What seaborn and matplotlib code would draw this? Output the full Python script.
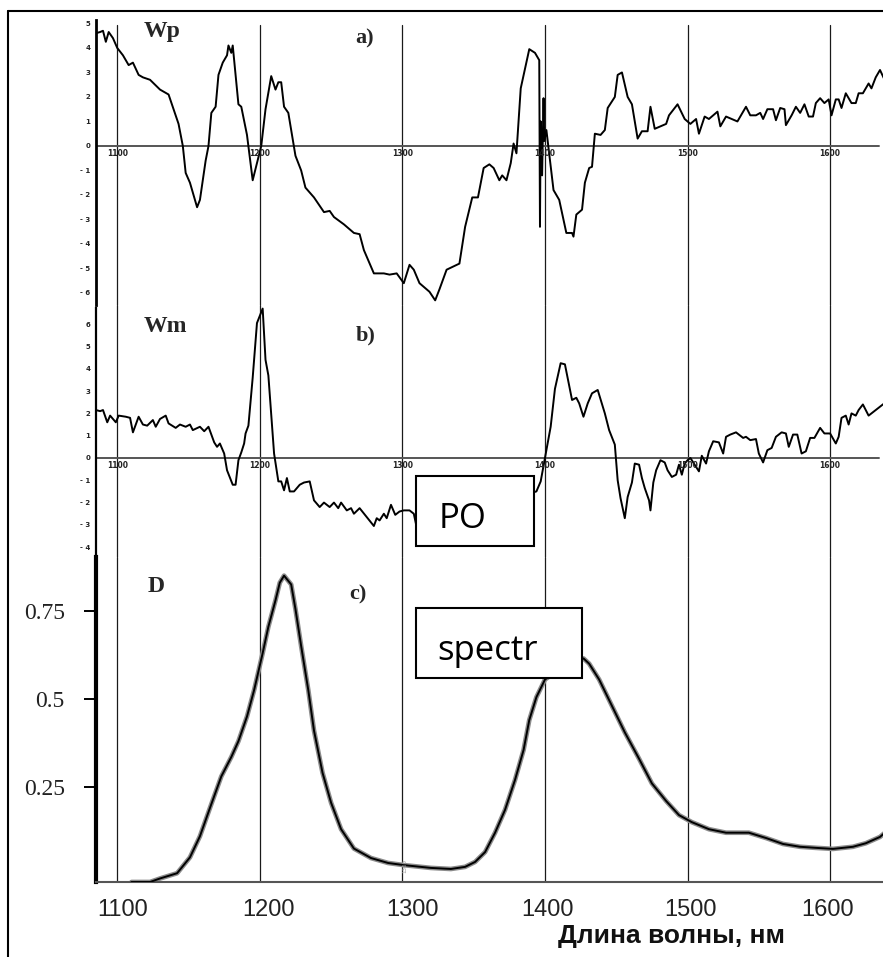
import matplotlib
matplotlib.use("Agg")
import matplotlib.pyplot as plt
import seaborn as sns
from matplotlib.patches import Rectangle
from matplotlib.lines import Line2D

sns.set_theme(style="white")
plt.rcParams['font.family'] = ['DejaVu Sans']

# ---------------- data ----------------
grid_nm = [1100, 1200, 1300, 1400, 1500, 1600]
grid_labels = ['1100', '1200', '1300', '1400', '1500', '1600']
# bottom axis labels sit slightly off the grid lines in the original
bottom_label_nm = [1104, 1206, 1307, 1402, 1502, 1598]

# a) Wp
wp_nm = [1085, 1085, 1088, 1090, 1092, 1094, 1097, 1100, 1104, 1108, 1111, 1115, 1118, 1123,
         1130, 1136, 1143, 1146, 1148, 1151, 1156, 1158, 1162, 1164, 1166, 1169, 1171, 1174,
         1177, 1178, 1180, 1181, 1185, 1187, 1191, 1195, 1201, 1204, 1208, 1211, 1213, 1215,
         1217, 1220, 1225, 1229, 1232, 1238, 1245, 1249, 1252, 1259, 1266, 1270, 1273, 1280,
         1287, 1291, 1296, 1301, 1305, 1308, 1312, 1315, 1319, 1323, 1326, 1331, 1340, 1344,
         1349, 1353, 1357, 1361, 1364, 1368, 1370, 1373, 1376, 1378, 1380, 1383, 1389, 1393,
         1396, 1396.5, 1397, 1398, 1399, 1399.5, 1401, 1406, 1410, 1415, 1419, 1420, 1422,
         1426, 1428, 1431, 1433, 1435, 1439, 1442, 1444, 1449, 1451, 1454, 1458, 1461, 1465,
         1468, 1472, 1474, 1477, 1481, 1485, 1487, 1493, 1498, 1502, 1506, 1508, 1512, 1515,
         1521, 1523, 1527, 1535, 1541, 1544, 1548, 1551, 1553, 1556, 1560, 1562, 1565, 1568,
         1569, 1573, 1576, 1579, 1582, 1585, 1588, 1590, 1593, 1596, 1599, 1601, 1604, 1606,
         1608, 1611, 1615, 1618, 1620, 1623, 1627, 1629, 1632, 1635, 1639]
wp_val = [2.3, 4.6, 4.65, 4.7, 4.25, 4.65, 4.4, 4.0, 3.7, 3.3, 3.4, 2.9, 2.8, 2.7,
          2.3, 2.1, 0.9, 0.0, -1.1, -1.5, -2.5, -2.2, -0.6, 0.0, 1.35, 1.6, 2.9, 3.4,
          3.7, 4.1, 3.8, 4.1, 1.7, 1.6, 0.45, -1.4, 0.0, 1.5, 2.85, 2.3, 2.6, 2.6,
          1.6, 1.35, -0.4, -1.0, -1.7, -2.1, -2.7, -2.65, -2.9, -3.2, -3.55, -3.6, -4.25, -5.2,
          -5.2, -5.25, -5.2, -5.6, -4.85, -5.05, -5.6, -5.75, -5.95, -6.3, -5.85, -5.05, -4.8, -3.3,
          -2.1, -2.1, -0.9, -0.75, -0.9, -1.4, -1.2, -1.4, -0.7, 0.1, -0.3, 2.35, 3.95, 3.8,
          3.5, -3.3, 1.0, -1.2, 1.95, 0.2, 0.65, -1.8, -2.2, -3.55, -3.55, -3.7, -2.8,
          -2.6, -1.5, -0.9, -0.85, 0.5, 0.45, 0.65, 1.55, 2.0, 2.9, 3.0, 2.0, 1.7, 0.3,
          0.6, 0.6, 1.6, 0.7, 0.8, 0.9, 1.25, 1.7, 1.1, 0.9, 1.1, 0.5, 1.2, 1.1,
          1.4, 0.8, 1.2, 1.0, 1.6, 1.25, 1.25, 1.35, 1.1, 1.5, 1.5, 1.05, 1.55, 1.5,
          0.85, 1.25, 1.6, 1.35, 1.7, 1.2, 1.2, 1.75, 1.95, 1.75, 1.9, 1.25, 1.9, 1.9,
          1.55, 2.15, 1.75, 1.75, 2.15, 2.15, 2.55, 2.35, 2.8, 3.1, 2.6]
wp_ticks = [5, 4, 3, 2, 1, 0, -1, -2, -3, -4, -5, -6]
wp_ticklabels = ['5', '4', '3', '2', '1', '0', '- 1', '- 2', '- 3', '- 4', '- 5', '- 6']

# b) Wm
wm_nm = [1085, 1085, 1088, 1090, 1093, 1095, 1099, 1101, 1106, 1109, 1111, 1115, 1118, 1121,
         1125, 1127, 1130, 1134, 1136, 1141, 1144, 1148, 1151, 1153, 1158, 1161, 1164, 1168,
         1170, 1172, 1175, 1177, 1181, 1183, 1185, 1187, 1189, 1190, 1192, 1195, 1198, 1202,
         1204, 1206, 1210, 1213, 1215, 1217, 1219, 1221, 1224, 1228, 1231, 1235, 1238, 1242,
         1245, 1249, 1252, 1255, 1257, 1261, 1264, 1266, 1270, 1275, 1280, 1282, 1284, 1287,
         1289, 1292, 1295, 1298, 1301, 1305, 1308, 1310, 1394, 1397, 1401, 1404, 1407, 1411,
         1414, 1419, 1422, 1424, 1427, 1430, 1433, 1437, 1442, 1445, 1449, 1451, 1453, 1456,
         1458, 1461, 1463, 1466, 1468, 1470, 1473, 1474, 1476, 1478, 1481, 1484, 1486, 1489,
         1492, 1494, 1496, 1498, 1500, 1502, 1506, 1508, 1510, 1513, 1515, 1518, 1522, 1525,
         1527, 1530, 1534, 1539, 1541, 1544, 1548, 1550, 1553, 1556, 1559, 1562, 1566, 1569,
         1571, 1574, 1577, 1580, 1583, 1586, 1589, 1593, 1596, 1600, 1604, 1606, 1608, 1611,
         1613, 1615, 1618, 1620, 1623, 1627, 1630, 1634, 1639]
wm_val = [1.0, 2.15, 2.1, 2.15, 1.6, 1.9, 1.6, 1.9, 1.85, 1.8, 1.15, 1.85, 1.5, 1.45,
          1.7, 1.4, 1.75, 1.9, 1.55, 1.35, 1.5, 1.4, 1.5, 1.25, 1.4, 1.2, 1.4, 0.7,
          0.5, 0.65, 0.2, -0.55, -1.2, -1.2, -0.1, 0.25, 0.65, 1.1, 1.45, 3.6, 6.05, 6.7,
          4.4, 3.7, 0.2, -1.05, -1.05, -1.45, -0.9, -1.5, -1.5, -1.2, -1.1, -1.05, -1.9, -2.2,
          -2.0, -2.2, -2.0, -2.25, -2.0, -2.35, -2.25, -2.5, -2.25, -2.65, -3.05, -2.7, -2.8, -2.5,
          -2.7, -2.1, -2.55, -2.4, -2.35, -2.35, -2.5, -3.1, -1.5, -1.05, 0.35, 1.4, 3.1, 4.25,
          4.2, 2.6, 2.7, 2.45, 1.85, 2.45, 2.9, 3.05, 2.0, 1.25, 0.6, -1.0, -1.8, -2.7,
          -1.75, -1.1, -0.25, -0.3, -0.9, -1.35, -1.9, -2.35, -1.1, -0.55, -0.1, -0.2, -0.55, -0.85,
          -0.75, -0.3, -0.75, -0.25, -0.1, 0.0, -0.4, -0.6, 0.1, -0.25, 0.3, 0.75, 0.7, 0.2,
          0.95, 1.05, 1.15, 0.9, 0.95, 0.8, 0.85, 0.2, -0.2, 0.35, 0.45, 0.95, 1.15, 1.1,
          0.5, 1.05, 1.05, 0.2, 0.3, 0.9, 0.9, 1.35, 1.1, 1.1, 0.65, 0.95, 1.8, 1.9,
          1.5, 2.0, 1.9, 2.15, 2.4, 1.9, 2.05, 2.25, 2.5]
wm_ticks = [6, 5, 4, 3, 2, 1, 0, -1, -2, -3, -4]
wm_ticklabels = ['6', '5', '4', '3', '2', '1', '0', '- 1', '- 2', '- 3', '- 4']

# c) D spectrum
d_nm = [1110, 1123, 1130, 1142, 1151, 1158, 1165, 1173, 1180, 1185, 1191, 1196, 1202, 1206,
        1211, 1214, 1217, 1222, 1225, 1229, 1234, 1238, 1244, 1250, 1257, 1266, 1278, 1290,
        1301, 1320, 1334, 1344, 1351, 1358, 1365, 1372, 1379, 1385, 1389, 1394, 1400, 1407,
        1418, 1427, 1431, 1438, 1447, 1456, 1466, 1475, 1485, 1494, 1503, 1515, 1527, 1543,
        1555, 1567, 1579, 1590, 1602, 1616, 1625, 1635, 1639]
d_val = [-0.02, -0.02, -0.01, 0.005, 0.05, 0.11, 0.19, 0.28, 0.335, 0.38, 0.45, 0.525, 0.63, 0.705,
         0.78, 0.83, 0.85, 0.825, 0.755, 0.65, 0.525, 0.41, 0.29, 0.205, 0.13, 0.075, 0.048, 0.034,
         0.028, 0.02, 0.017, 0.023, 0.037, 0.065, 0.12, 0.185, 0.27, 0.355, 0.44, 0.505, 0.555, 0.575,
         0.6, 0.615, 0.6, 0.555, 0.48, 0.405, 0.33, 0.26, 0.21, 0.17, 0.15, 0.13, 0.12, 0.12,
         0.105, 0.088, 0.08, 0.077, 0.074, 0.08, 0.09, 0.108, 0.122]
d_ticks = [0.25, 0.5, 0.75]
d_ticklabels = ['0.25', '0.5', '0.75']

xlabel = 'Длина волны, нм'
panel_names = ['Wp', 'Wm', 'D']
panel_tags = ['a)', 'b)', 'c)']
box_texts = ['PO', 'spectr']

# ---------------- figure ----------------
W, H = 883, 957
fig = plt.figure(figsize=(W / 100, H / 100), dpi=100)


def px_axes(top, bottom, left=96, right=883):
    return fig.add_axes([left / W, 1 - bottom / H, (right - left) / W, (bottom - top) / H])


XLIM = (1085.1, 1637.1)
ax_a = px_axes(20, 305)
ax_b = px_axes(305, 557)
ax_c = px_axes(557, 882)

ax_a.set_ylim(-6.49, 5.14)
ax_b.set_ylim(-4.44, 6.86)
ax_c.set_ylim(-0.02, 0.903)

for ax in (ax_a, ax_b, ax_c):
    ax.set_xlim(*XLIM)
    ax.patch.set_visible(False)
    for s in ('top', 'right', 'bottom'):
        ax.spines[s].set_visible(False)
    ax.spines['left'].set_color('black')
    ax.set_xticks([])

# vertical grid lines across all panels
for nm in grid_nm:
    ax_a.axvline(nm, ymax=0.982, color='#1a1a1a', lw=0.9, zorder=1)
    ax_b.axvline(nm, color='#1a1a1a', lw=0.9, zorder=1)
    ax_c.axvline(nm, color='#1a1a1a', lw=0.9, zorder=1)

# derivative panels
for ax, xs, ys, ticks, tlabels in ((ax_a, wp_nm, wp_val, wp_ticks, wp_ticklabels),
                                   (ax_b, wm_nm, wm_val, wm_ticks, wm_ticklabels)):
    ax.axhline(0, xmax=0.995, color='#555555', lw=1.4, zorder=1)
    sns.lineplot(x=xs, y=ys, ax=ax, color='black', lw=1.4, sort=False, estimator=None, zorder=3)
    ax.set_xticks([])
    ax.set_yticks(ticks)
    ax.set_yticklabels(tlabels, fontsize=5, fontweight='bold', color='#222222')
    ax.tick_params(axis='y', length=0, pad=4)
    for nm, lab in zip(grid_nm, grid_labels):
        ax.annotate(lab, (nm, 0), xytext=(0, -2.5), textcoords='offset points',
                    ha='center', va='top', fontsize=5.5, fontweight='bold', color='#222222')
    ax.set_xlabel('')
    ax.set_ylabel('')

ax_a.spines['left'].set_linewidth(2)
ax_b.spines['left'].set_linewidth(1.6)
ax_b.spines['left'].set_bounds(-4.44, 6.73)

# spectrum panel
sns.lineplot(x=d_nm, y=d_val, ax=ax_c, color='#8c8c8c', lw=3.4, sort=False, estimator=None, zorder=2)
sns.lineplot(x=d_nm, y=d_val, ax=ax_c, color='black', lw=1.4, sort=False, estimator=None, zorder=3)
ax_c.spines['left'].set_linewidth(3)
ax_c.spines['bottom'].set_visible(True)
ax_c.spines['bottom'].set_color('#555555')
ax_c.spines['bottom'].set_linewidth(1.5)
ax_c.set_xticks(bottom_label_nm)
ax_c.set_xticklabels(grid_labels, fontsize=17, family='Liberation Sans', color='#222222')
ax_c.tick_params(axis='x', bottom=False, length=0, pad=12)
ax_c.set_yticks(d_ticks)
ax_c.set_yticklabels(d_ticklabels, fontsize=17, family='Liberation Serif', color='#222222')
ax_c.tick_params(axis='y', left=True, length=8.5, width=1.4, color='black', pad=14)
ax_c.set_xlabel('')
ax_c.set_ylabel('')
ax_c.text(1302, 0.005, '1300', rotation=90, fontsize=4, color='#999999', ha='center', va='bottom')

fig.text(672 / W, 1 - 936 / H, xlabel, ha='center', va='center', fontsize=19,
         fontweight='bold', family='Liberation Sans', color='#111111')

# panel names and tags
for name, (x, y) in zip(panel_names, [(162, 32), (165, 327), (156, 587)]):
    fig.text(x / W, 1 - y / H, name, ha='center', va='center', fontsize=17,
             fontweight='bold', family='Liberation Serif')
for tag, (x, y) in zip(panel_tags, [(365, 38), (366, 335), (358, 594)]):
    fig.text(x / W, 1 - y / H, tag, ha='center', va='center', fontsize=16,
             fontweight='bold', family='Liberation Serif')

# boxes
for txt, (l, t, r, b), (tx, ty) in zip(box_texts,
                                       [(416, 476, 534, 546), (416, 608, 582, 678)],
                                       [(439, 528), (437, 660)]):
    fig.patches.append(Rectangle((l / W, 1 - b / H), (r - l) / W, (b - t) / H,
                                 transform=fig.transFigure, facecolor='white',
                                 edgecolor='black', lw=1.5, zorder=5))
    fig.text(tx / W, 1 - ty / H, txt, ha='left', va='baseline', fontsize=25,
             family='Open Sans', color='black', zorder=6)

# outer frame (left and top)
fig.lines.append(Line2D([8 / W, 8 / W], [0, 1 - 11 / H], transform=fig.transFigure,
                        color='black', lw=1.5))
fig.lines.append(Line2D([8 / W, 1], [1 - 11 / H, 1 - 11 / H], transform=fig.transFigure,
                        color='black', lw=1.5))

fig.savefig('out.png', dpi=100)
